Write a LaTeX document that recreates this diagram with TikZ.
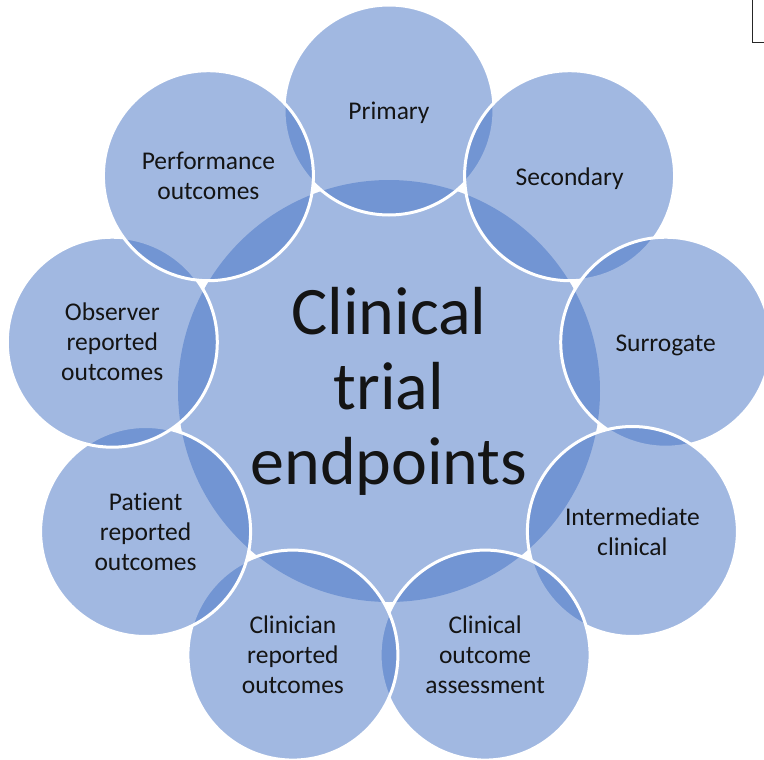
\documentclass[tikz,border=0pt]{standalone}
\usepackage{fontspec}
\setmainfont{Carlito}[Ligatures=NoCommon]
\definecolor{accentblue}{HTML}{4472C4}
\definecolor{txt}{HTML}{141414}
\newcommand{\lowered}[1]{\raisebox{-3pt}[\height][\depth]{#1}}
\begin{document}
\begin{tikzpicture}[x=1pt,y=-1pt,
  bubble/.style={circle, minimum size=210pt, inner sep=0pt, fill=accentblue, fill opacity=0.5,
    draw=white, draw opacity=1, line width=3pt, text opacity=1, text=txt, align=center,
    font=\fontsize{25.5}{30}\selectfont},
  hub/.style={bubble, draw=none, minimum size=422pt, font=\fontsize{68}{75}\selectfont}]
\useasboundingbox (0,0) rectangle (764,760);
\clip (0,0) rectangle (764,760);
\node[hub] (hub) at (389,391) {Clinical\\trial\\endpoints};
\node[bubble] (primary) at (389,110) {\lowered{Primary}};
\node[bubble] (secondary) at (569.6,175.7) {\lowered{Secondary}};
\node[bubble] (surrogate) at (665.7,342.2) {\lowered{Surrogate}};
\node[bubble] (intermediate) at (632.4,531.5) {Intermediate\\clinical};
\node[bubble] (coa) at (485.1,655.1) {Clinical\\outcome\\assessment};
\node[bubble] (clinician) at (292.9,655.1) {Clinician\\reported\\outcomes};
\node[bubble] (patient) at (145.6,531.5) {Patient\\reported\\outcomes};
\node[bubble] (observer) at (112.3,342.2) {Observer\\reported\\outcomes};
\node[bubble] (performance) at (208.4,175.7) {Performance\\outcomes};
\draw[line width=1.5pt, draw=black!85] (752.5,0) -- (752.5,42.5) -- (764,42.5);
\end{tikzpicture}
\end{document}
